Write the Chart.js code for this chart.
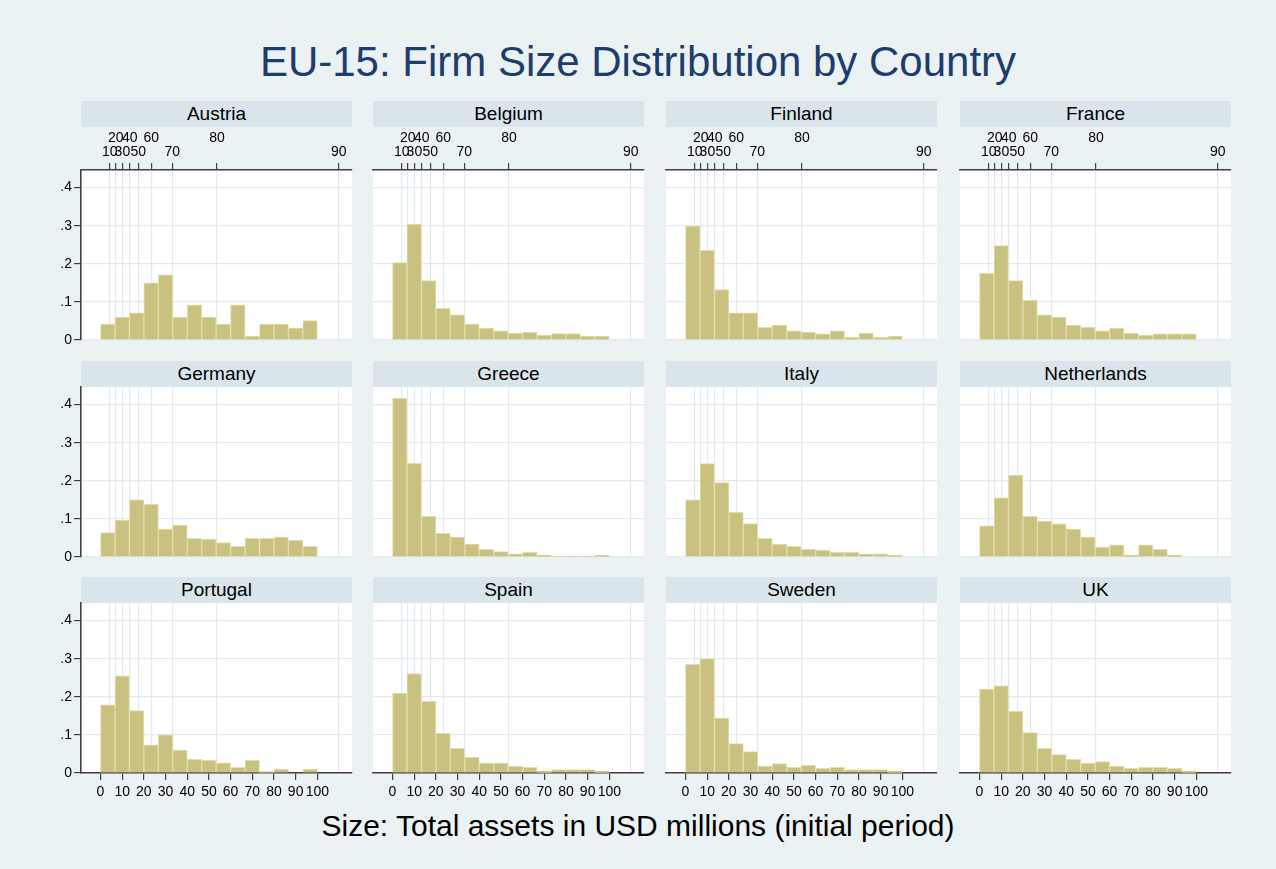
<!DOCTYPE html>
<html>
<head>
<meta charset="utf-8">
<script src="https://cdn.jsdelivr.net/npm/chart.js@4.4.1/dist/chart.umd.min.js"></script>
<style>
html,body{margin:0;padding:0;background:#ffffff;}
#frame{position:absolute;left:0;top:0;width:1276px;height:869px;background:#eaf2f3;overflow:hidden;font-family:"Liberation Sans",Arial,Helvetica,sans-serif;}
.title{position:absolute;left:0;width:1276px;text-align:center;white-space:nowrap;}
.strip{position:absolute;background:#d9e5ea;text-align:center;color:#000;font-size:19px;line-height:26px;height:26px;white-space:nowrap;}
canvas{position:absolute;}
</style>
</head>
<body>
<div id="frame">
  <div class="title" style="top:41px;font-size:42px;line-height:42px;color:#1c3d6e;">EU-15: Firm Size Distribution by Country</div>
  <div class="title" style="top:811px;font-size:30px;line-height:30px;color:#000;">Size: Total assets in USD millions (initial period)</div>
</div>
<script>
// ---------- data ----------
const countries = ['Austria','Belgium','Finland','France','Germany','Greece','Italy','Netherlands','Portugal','Spain','Sweden','UK'];
const binMidpoints = [3.33, 10, 16.67, 23.33, 30, 36.67, 43.33, 50, 56.67, 63.33, 70, 76.67, 83.33, 90, 96.67];

const austria     = [0.042, 0.060, 0.071, 0.150, 0.171, 0.060, 0.092, 0.060, 0.042, 0.092, 0.010, 0.042, 0.042, 0.031, 0.051];
const belgium     = [0.203, 0.304, 0.156, 0.083, 0.066, 0.042, 0.031, 0.024, 0.018, 0.021, 0.013, 0.017, 0.017, 0.010, 0.010];
const finland     = [0.299, 0.235, 0.132, 0.071, 0.071, 0.033, 0.039, 0.024, 0.021, 0.016, 0.024, 0.007, 0.018, 0.007, 0.010];
const france      = [0.175, 0.248, 0.156, 0.104, 0.066, 0.060, 0.039, 0.033, 0.024, 0.031, 0.018, 0.013, 0.016, 0.016, 0.016];
const germany     = [0.064, 0.097, 0.150, 0.138, 0.073, 0.084, 0.049, 0.047, 0.038, 0.028, 0.049, 0.049, 0.052, 0.044, 0.028];
const greece      = [0.416, 0.246, 0.107, 0.062, 0.052, 0.034, 0.020, 0.014, 0.008, 0.012, 0.005, 0.002, 0.002, 0.002, 0.005];
const italy       = [0.150, 0.245, 0.195, 0.117, 0.088, 0.049, 0.034, 0.028, 0.020, 0.018, 0.012, 0.012, 0.008, 0.008, 0.005];
const netherlands = [0.082, 0.155, 0.215, 0.107, 0.094, 0.087, 0.073, 0.052, 0.026, 0.032, 0.005, 0.032, 0.020, 0.005, 0];
const portugal    = [0.179, 0.255, 0.164, 0.074, 0.100, 0.060, 0.036, 0.033, 0.027, 0.015, 0.033, 0.004, 0.010, 0, 0.010];
const spain       = [0.209, 0.261, 0.188, 0.104, 0.065, 0.041, 0.026, 0.026, 0.018, 0.015, 0.006, 0.009, 0.009, 0.009, 0.006];
const sweden      = [0.285, 0.300, 0.144, 0.077, 0.056, 0.018, 0.025, 0.015, 0.020, 0.012, 0.015, 0.009, 0.009, 0.009, 0.006];
const uk          = [0.220, 0.229, 0.162, 0.106, 0.065, 0.048, 0.036, 0.026, 0.030, 0.018, 0.012, 0.015, 0.015, 0.012, 0.006];

const seriesByCountry = [austria, belgium, finland, france, germany, greece, italy, netherlands, portugal, spain, sweden, uk];

const percentilePositions = [4.3, 7.05, 10.1, 13.5, 17.45, 23.4, 33.1, 53.7, 109.9];
const percentileLabels = ['10','20','30','40','50','60','70','80','90'];
const sizeTicks = [0, 10, 20, 30, 40, 50, 60, 70, 80, 90, 100];
const sizeTickLabels = ['0','10','20','30','40','50','60','70','80','90','100'];
const densityTicks = [0, 0.1, 0.2, 0.3, 0.4];
const densityLabels = ['0', '.1', '.2', '.3', '.4'];

// ---------- layout ----------
const colLeft = [81, 373, 666, 960];
const plotW = 271;
const stripTop = [101, 361, 577];
const plotTop = [170, 387, 603];
const plotH = 170;
const PADL = 45, PADT = 50, PADR = 10, PADB = 35;
const FONT = '"Liberation Sans", Arial, Helvetica, sans-serif';
const AXIS = '#404040';
const GRID = '#e1eaee';

const plotBg = {
  id: 'plotBg',
  beforeDraw(chart) {
    const {ctx, chartArea: a} = chart;
    ctx.save();
    ctx.fillStyle = '#ffffff';
    ctx.fillRect(a.left, a.top, a.right - a.left, a.bottom - a.top);
    ctx.restore();
  }
};

const frame = document.getElementById('frame');

countries.forEach((name, k) => {
  const row = Math.floor(k / 4), col = k % 4;
  const showY = col === 0, showTop = row === 0, showBottom = row === 2;
  const yW = showY ? PADL : 0, topH = showTop ? PADT : 0, botH = showBottom ? PADB : 0;

  const strip = document.createElement('div');
  strip.className = 'strip';
  strip.style.left = colLeft[col] + 'px';
  strip.style.top = stripTop[row] + 'px';
  strip.style.width = plotW + 'px';
  strip.textContent = name;
  frame.appendChild(strip);

  const cv = document.createElement('canvas');
  const W = plotW + PADL + PADR, H = plotH + PADT + PADB;
  cv.width = W; cv.height = H;
  cv.style.width = W + 'px'; cv.style.height = H + 'px';
  cv.style.left = (colLeft[col] - PADL) + 'px';
  cv.style.top = (plotTop[row] - PADT) + 'px';
  frame.appendChild(cv);

  const series = seriesByCountry[k];
  new Chart(cv, {
    type: 'bar',
    data: {
      datasets: [{
        data: binMidpoints.map((x, i) => ({x: x, y: series[i]})),
        backgroundColor: '#c9c17f',
        borderColor: '#e4ddab',
        borderWidth: 1,
        barPercentage: 1,
        categoryPercentage: 1,
        xAxisID: 'x',
        yAxisID: 'y'
      }]
    },
    options: {
      responsive: false,
      animation: false,
      devicePixelRatio: 1,
      layout: {padding: {left: PADL - yW, top: PADT - topH, right: PADR, bottom: PADB - botH}},
      plugins: {legend: {display: false}, tooltip: {enabled: false}, title: {display: false}},
      scales: {
        x: {
          type: 'linear', position: 'bottom', min: -9, max: 116, z: 1, offset: false,
          afterBuildTicks: s => { s.ticks = sizeTicks.map(v => ({value: v})); },
          afterFit: s => { s.height = botH; },
          grid: {offset: false, drawOnChartArea: false, drawTicks: showBottom, tickLength: 7, tickColor: AXIS, color: AXIS, lineWidth: 1.2},
          border: {display: showBottom, color: AXIS, width: 1.6},
          ticks: {display: showBottom, autoSkip: false, maxRotation: 0, minRotation: 0, padding: 5, color: '#000',
                  font: {family: FONT, size: 14, lineHeight: 1}, callback: (v, i) => sizeTickLabels[i]}
        },
        x2: {
          type: 'linear', position: 'top', min: -9, max: 116, offset: false,
          afterBuildTicks: s => { s.ticks = percentilePositions.map(v => ({value: v})); },
          afterFit: s => { s.height = topH; },
          grid: {offset: false, drawOnChartArea: true, color: GRID, lineWidth: 1.2, drawTicks: showTop, tickLength: 7, tickColor: AXIS},
          border: {display: showTop, color: AXIS, width: 1.6},
          ticks: {display: showTop, autoSkip: false, maxRotation: 0, minRotation: 0, padding: 4, color: '#000',
                  font: {family: FONT, size: 14, lineHeight: 1},
                  callback: (v, i) => (i % 2 === 0 ? ['', percentileLabels[i]] : [percentileLabels[i], ''])}
        },
        y: {
          type: 'linear', position: 'left', min: 0, max: 0.446,
          afterBuildTicks: s => { s.ticks = densityTicks.map(v => ({value: v})); },
          afterFit: s => { s.width = yW; },
          grid: {color: GRID, lineWidth: 1.2, drawTicks: showY, tickLength: 7, tickColor: AXIS},
          border: {display: showY, color: AXIS, width: 1.6},
          ticks: {display: showY, padding: 2, color: '#000',
                  font: {family: FONT, size: 14, lineHeight: 1}, callback: (v, i) => densityLabels[i]}
        }
      }
    },
    plugins: [plotBg]
  });
});
</script>
</body>
</html>
